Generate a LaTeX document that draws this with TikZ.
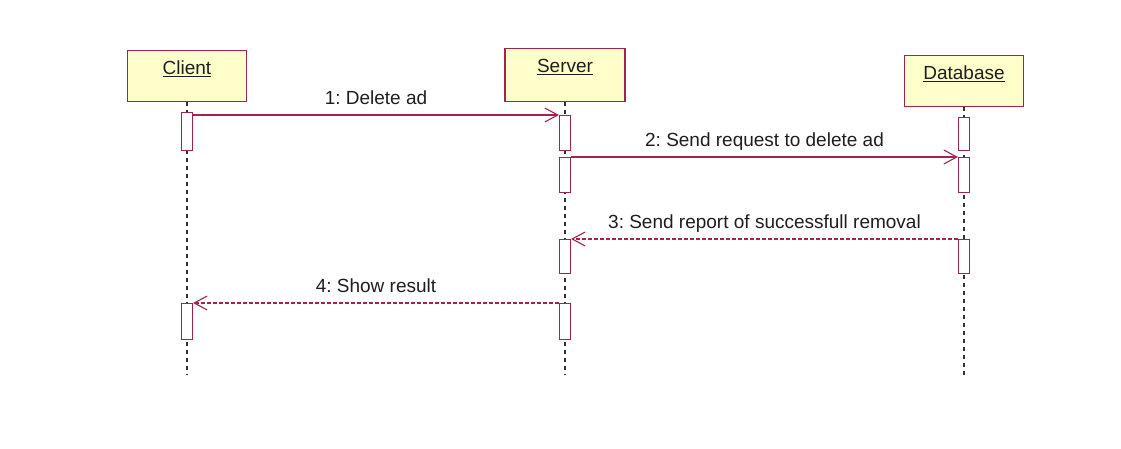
\documentclass[tikz,border=0pt]{standalone}
\usepackage{fontspec}
\setmainfont{Liberation Sans}
\usetikzlibrary{arrows.meta}
\frenchspacing

\definecolor{umlred}{RGB}{160,35,80}
\definecolor{umlfill}{RGB}{255,255,204}
\definecolor{umltext}{RGB}{30,30,30}

\newcommand{\activation}[4]{
\node[actbox, minimum height=#4] (#1) at (#2, #3) {};
}
\newcommand{\lifeline}[1]{
\draw[lifeline] (#1.south) -- (#1.south |- bottom);
}

\tikzset{
  participant/.style={draw=umlred, fill=umlfill, line width=1.1pt, anchor=north,
    minimum width=119pt, inner ysep=0pt, text height=24pt, text depth=27pt,
    text=umltext, font=\fontsize{19}{23}\selectfont},
  actbox/.style={draw=umlred, fill=white, line width=1.1pt, anchor=north,
    minimum width=11pt, inner sep=0pt},
  lifeline/.style={draw=black!80, line width=1.5pt, dash pattern=on 4pt off 4pt},
  call/.style={draw=umlred, line width=1.1pt,
    -{Straight Barb[length=13pt, width=14pt]}},
  reply/.style={call, dash pattern=on 3.5pt off 2.5pt},
  msglabel/.style={midway, above=6pt, inner sep=0pt, text height=14pt,
    text depth=4pt, text=umltext, font=\fontsize{19}{23}\selectfont}
}

\begin{document}
\begin{tikzpicture}[x=1pt, y=-1pt]
\useasboundingbox (0, 0) rectangle (1121, 449);
\coordinate (bottom) at (0, 375);

\node[participant] (client) at (187, 50) {\underline{Client}};
\node[participant, minimum width=120pt, text depth=29pt] (server) at (565, 48) {\underline{Server}};
\node[participant] (database) at (964, 55) {\underline{Database}};

\lifeline{client}
\lifeline{server}
\lifeline{database}

\activation{actc1}{187}{112}{38}
\activation{actc2}{187}{303}{36}

\activation{acts1}{565}{115}{35}
\activation{acts2}{565}{157}{35}
\activation{acts3}{565}{239}{34}
\activation{acts4}{565}{303}{36}

\activation{actd1}{964}{117}{33}
\activation{actd2}{964}{157}{35}
\activation{actd3}{964}{239}{34}

\draw[call] (acts1.north west -| actc1.east) -- node[msglabel] {1: Delete ad} (acts1.north west);
\draw[call] (acts2.north east) -- node[msglabel] {2: Send request to delete ad} (actd2.north west);
\draw[reply] (actd3.north west) -- node[msglabel] {3: Send report of successfull removal} (acts3.north east);
\draw[reply] (acts4.north west) -- node[msglabel] {4: Show result} (actc2.north east);

\end{tikzpicture}
\end{document}
